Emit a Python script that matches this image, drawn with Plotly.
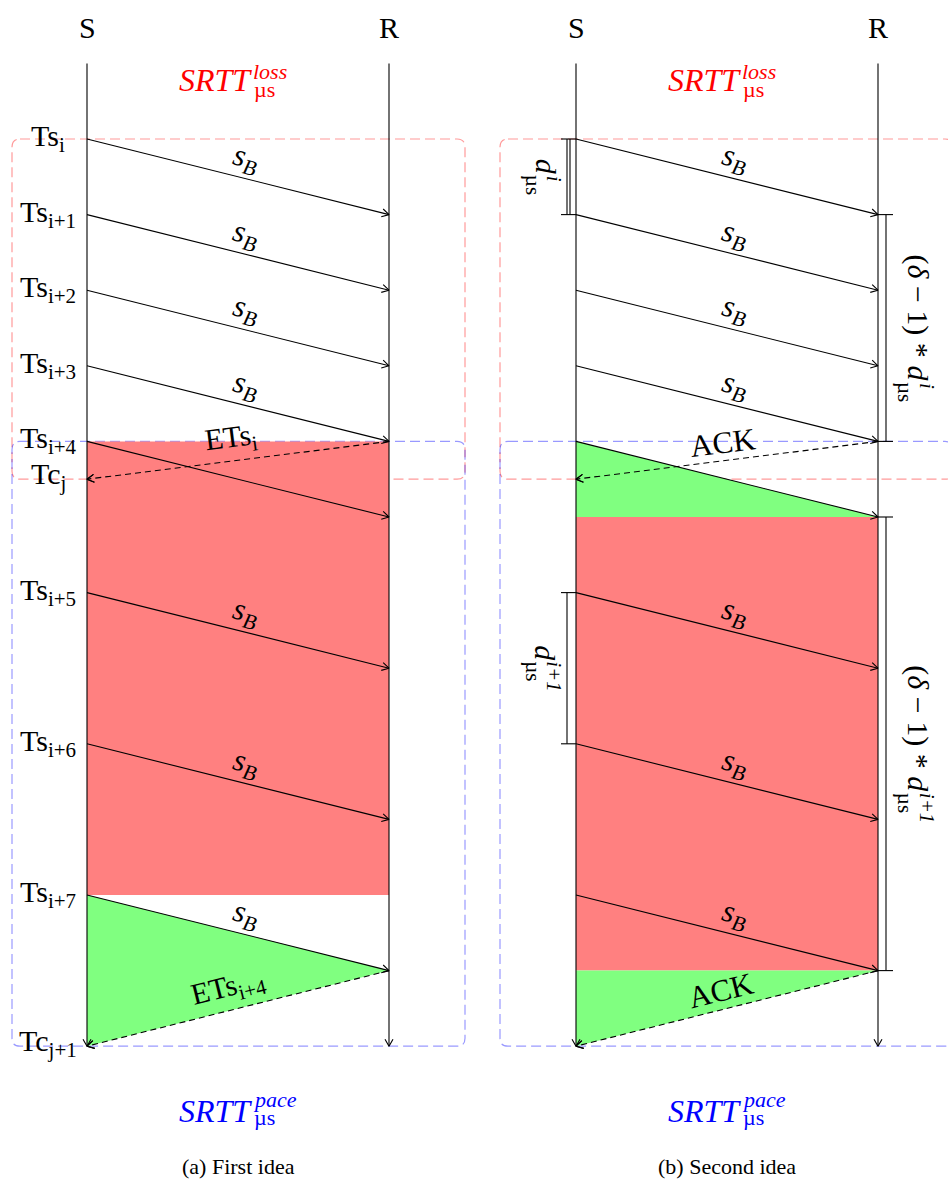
import math
import plotly.graph_objects as go

# ---------------- data (time measured in packet-slot units) ----------------
SEND_SLOTS = [0, 1, 2, 3, 4, 6, 8, 10]
SEND_NAMES = ["i", "i+1", "i+2", "i+3", "i+4", "i+5", "i+6", "i+7"]
SB_ON_ARROW = [True, True, True, True, False, True, True, True]
ONE_WAY = 1
ACK_FROM = [4, 11]          # leaves receiver
ACK_TO = [4.5, 12]          # reaches sender
TC_NAMES = ["j", "j+1"]
ETS_NAMES = ["i", "i+4"]
LIFELINE = [-1, 12]
LOSS_BOX = [0, 4.5]
PACE_BOX = [4, 12]
RED_A = [4, 10]
GREEN_A = [10, 11, 12]      # (S top, R tip, S bottom)
GREEN_B_TOP = [4, 5, 5]
RED_B = [5, 11]
GREEN_B_BOT = [11, 11, 12]
GAP_BRACKETS = [(0, 1, "i"), (6, 8, "i+1")]
PACE_BRACKETS = [(1, 4, "i"), (5, 11, "i+1")]
CAPTIONS = ["(a) First idea", "(b) Second idea"]

# ---------------- layout constants ----------------
W, H = 948, 1182
Y0, PX = 139.0, 75.6
S_X = [87, 576]
R_X = [389, 878]
LABEL_X = 48
BOX_X = [(12, 465), (500, 953)]
FONT = "Liberation Serif"
RED = "rgb(255,128,128)"
GREEN = "rgb(128,255,128)"


def T(py):
    return (py - Y0) / PX


def P(t):
    return Y0 + t * PX


solid = ([], [])
dashed = ([], [])
heads = ([], [])


def seg(store, x1, t1, x2, t2):
    store[0].extend([x1, x2, None])
    store[1].extend([t1, t2, None])


def head(x1, t1, x2, t2, L=7.0, Wd=4.0):
    p1 = (x1, P(t1)); p2 = (x2, P(t2))
    dx, dy = p2[0] - p1[0], p2[1] - p1[1]
    n = math.hypot(dx, dy); dx /= n; dy /= n
    bx, by = p2[0] - L * dx, p2[1] - L * dy
    a = (bx - Wd * dy, by + Wd * dx)
    b = (bx + Wd * dy, by - Wd * dx)
    heads[0].extend([a[0], p2[0], b[0], None])
    heads[1].extend([T(a[1]), t2, T(b[1]), None])


def arrow(store, x1, t1, x2, t2):
    seg(store, x1, t1, x2, t2)
    head(x1, t1, x2, t2)


fig = go.Figure()
anns = []
shapes = []


def ann(x, py, text, size=29, angle=0, color="black", xanchor="center"):
    anns.append(dict(x=x, y=T(py), xref="x", yref="y", text=text, showarrow=False,
                     textangle=angle, xanchor=xanchor, yanchor="middle",
                     font=dict(family=FONT, size=size, color=color)))


def rbox(x0, x1, t0, t1, color):
    rx, ry = 8.0, 8.0 / PX
    path = (f"M {x0+rx},{t0} L {x1-rx},{t0} Q {x1},{t0} {x1},{t0+ry} "
            f"L {x1},{t1-ry} Q {x1},{t1} {x1-rx},{t1} L {x0+rx},{t1} "
            f"Q {x0},{t1} {x0},{t1-ry} L {x0},{t0+ry} Q {x0},{t0} {x0+rx},{t0} Z")
    shapes.append(dict(type="path", path=path, xref="x", yref="y", layer="below",
                       line=dict(color=color, width=1.2, dash="10px,5px")))


def fill_poly(xs, ts, color):
    fig.add_trace(go.Scatter(x=xs + [xs[0]], y=ts + [ts[0]], mode="lines", fill="toself",
                             fillcolor=color, line=dict(width=0, color=color),
                             hoverinfo="skip", showlegend=False))


for k in range(2):
    sx, rx = S_X[k], R_X[k]
    cx = (sx + rx) / 2
    # dashed windows
    rbox(BOX_X[k][0], BOX_X[k][1], LOSS_BOX[0], LOSS_BOX[1], "rgba(255,0,0,0.4)")
    rbox(BOX_X[k][0], BOX_X[k][1], PACE_BOX[0], PACE_BOX[1], "rgba(0,0,255,0.4)")
    # coloured areas
    if k == 0:
        fill_poly([sx, rx, rx, sx], [RED_A[0], RED_A[0], RED_A[1], RED_A[1]], RED)
        fill_poly([sx, rx, sx], GREEN_A, GREEN)
    else:
        fill_poly([sx, rx, sx], GREEN_B_TOP, GREEN)
        fill_poly([sx, rx, rx, sx], [RED_B[0], RED_B[0], RED_B[1], RED_B[1]], RED)
        fill_poly([sx, rx, sx], GREEN_B_BOT, GREEN)
    # lifelines
    arrow(solid, sx, LIFELINE[0], sx, LIFELINE[1])
    arrow(solid, rx, LIFELINE[0], rx, LIFELINE[1])
    ann(sx, 27, "S", 30)
    ann(rx, 27, "R", 30)
    # data packets
    for s, name, lab in zip(SEND_SLOTS, SEND_NAMES, SB_ON_ARROW):
        arrow(solid, sx, s, rx, s + ONE_WAY)
        if k == 0:
            ann(LABEL_X, P(s) - 1, f"Ts<sub>{name}</sub>", 30)
        if lab:
            mx, my = (sx + rx) / 2, (P(s) + P(s + ONE_WAY)) / 2
            th = math.atan2(P(s + ONE_WAY) - P(s), rx - sx)
            ux, uy = math.sin(th), -math.cos(th)
            ann(mx + 19 * ux + 3 * math.cos(th), my + 19 * uy + 3 * math.sin(th),
                "<i>s</i><sub><i>B</i></sub>", 31, math.degrees(th))
    # acknowledgements
    for j, (a0, a1) in enumerate(zip(ACK_FROM, ACK_TO)):
        arrow(dashed, rx, a0, sx, a1)
        head(rx, a0, sx, a1)
        mx, my = (sx + rx) / 2, (P(a0) + P(a1)) / 2
        th = math.atan2(P(a0) - P(a1), rx - sx)
        ux, uy = math.sin(th), -math.cos(th)
        if k == 0:
            ann(LABEL_X, P(a1) - 3, f"Tc<sub>{TC_NAMES[j]}</sub>", 30)
            ann(mx + 21 * ux - 4, my + 21 * uy, f"ETs<sub>{ETS_NAMES[j]}</sub>", 30, math.degrees(th))
        else:
            ann(mx + 18 * ux - 2, my + 18 * uy, "ACK", 31, math.degrees(th))
    # SRTT labels
    ann(cx + 16, 80, "<i>SRTT</i>", 32, color="red", xanchor="right")
    ann(cx + 13, 71, "<i>loss</i>", 22, color="red", xanchor="left")
    ann(cx + 14, 89, "µs", 22, color="red", xanchor="left")
    ann(cx + 16, 1111, "<i>SRTT</i>", 32, color="blue", xanchor="right")
    ann(cx + 13, 1099, "<i>pace</i>", 22, color="blue", xanchor="left")
    ann(cx + 14, 1117, "µs", 22, color="blue", xanchor="left")
    ann(cx, 1166, CAPTIONS[k], 22)

# brackets in panel (b)
sx, rx = S_X[1], R_X[1]
for n, (a, b, sup) in enumerate(GAP_BRACKETS):
    seg(solid, sx - 9, a, sx - 9, b)
    if n == 0:
        seg(solid, sx - 6, a, sx - 6, b)
    seg(solid, sx - 15, a, sx, a)
    seg(solid, sx - 15, b, sx, b)
    mid = (P(a) + P(b)) / 2
    sup_len = 7 if sup == "i" else 29
    total = 15 + 1 + max(sup_len, 19)
    st = mid - total / 2
    ann(546, st + 7.5, "<i>d</i>", 30, 90)
    ann(554, st + 16 + sup_len / 2, f"<i>{sup}</i>", 21, 90)
    ann(533, st + 16 + 9.5, "µs", 21, 90)
for a, b, sup in PACE_BRACKETS:
    seg(solid, rx + 8, a, rx + 8, b)
    seg(solid, rx, a, rx + 15, a)
    seg(solid, rx, b, rx + 15, b)
    mid = (P(a) + P(b)) / 2
    sup_len = 7 if sup == "i" else 29
    total = 126 + 2 + max(sup_len, 19)
    st = mid - total / 2
    ann(918, st + 63, "(<i>δ</i> − 1) * <i>d</i>", 30, 90)
    ann(927, st + 128 + sup_len / 2, f"<i>{sup}</i>", 21, 90)
    ann(905, st + 128 + 9.5, "µs", 21, 90)

fig.add_trace(go.Scatter(x=solid[0], y=solid[1], mode="lines", line=dict(color="black", width=1.1),
                         hoverinfo="skip", showlegend=False))
fig.add_trace(go.Scatter(x=dashed[0], y=dashed[1], mode="lines",
                         line=dict(color="black", width=1.1, dash="6px,4px"),
                         hoverinfo="skip", showlegend=False))
fig.add_trace(go.Scatter(x=heads[0], y=heads[1], mode="lines", line=dict(color="black", width=1.1),
                         hoverinfo="skip", showlegend=False))

fig.update_layout(
    width=W, height=H, margin=dict(l=0, r=0, t=0, b=0),
    paper_bgcolor="white", plot_bgcolor="white", hovermode=False,
    xaxis=dict(range=[0, W], visible=False, fixedrange=True),
    yaxis=dict(range=[T(H), T(0)], visible=False, fixedrange=True),
    annotations=anns, shapes=shapes, showlegend=False,
)
fig.write_html("out.html", config={"displayModeBar": False})
